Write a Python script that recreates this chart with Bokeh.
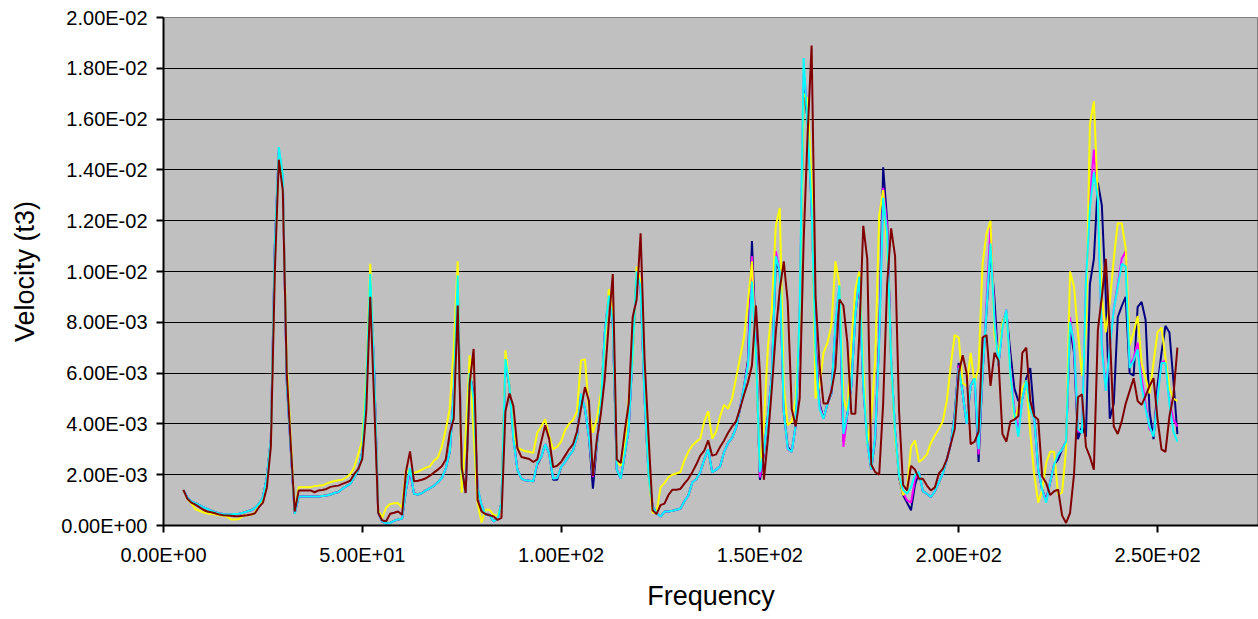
from bokeh.plotting import figure
from bokeh.models import FixedTicker, CustomJSTickFormatter
from bokeh.embed import file_html
from bokeh.resources import INLINE
import numpy as np

# Frequency grid (Hz), 1 Hz steps from 5 to 255
freq = list(range(5, 256))

# Velocity values in units of 1E-03
maroon = [
    1.40, 1.05, 0.90, 0.82, 0.72, 0.62, 0.55, 0.52, 0.48, 0.43,
    0.40, 0.39, 0.38, 0.36, 0.36, 0.38, 0.40, 0.43, 0.48, 0.72,
    0.90, 1.50, 3.10, 10.0, 14.4, 13.2, 6.0, 3.2, 0.55, 1.38,
    1.38, 1.38, 1.38, 1.31, 1.38, 1.40, 1.44, 1.52, 1.55, 1.57,
    1.64, 1.70, 1.77, 2.03, 2.23, 2.62, 4.5, 9.0, 4.8, 0.50,
    0.20, 0.17, 0.46, 0.50, 0.55, 0.42, 2.13, 2.92, 1.74, 1.76,
    1.80, 1.86, 1.96, 2.08, 2.20, 2.33, 2.60, 3.65, 4.2, 8.66,
    2.3, 1.28, 5.6, 6.95, 1.0, 0.55, 0.45, 0.40, 0.36, 0.22,
    0.30, 4.5, 5.2, 4.7, 3.05, 2.7, 2.66, 2.62, 2.5, 2.6,
    3.3, 3.95, 3.4, 2.3, 2.35, 2.5, 2.75, 3.0, 3.2, 3.7,
    4.6, 5.45, 4.9, 1.94, 3.4, 4.4, 5.8, 8.0, 9.9, 2.6,
    2.46, 3.7, 4.8, 8.2, 8.9, 11.5, 6.5, 3.5, 0.6, 0.45,
    0.8, 0.86, 1.2, 1.41, 1.41, 1.44, 1.65, 1.84, 2.1, 2.4,
    2.75, 2.95, 3.35, 2.75, 2.8, 3.1, 3.35, 3.65, 3.9, 4.1,
    4.6, 5.15, 5.64, 6.3, 8.66, 6.0, 1.8, 3.4, 5.4, 7.6,
    9.3, 10.4, 8.8, 4.6, 3.9, 5.0, 11.2, 15.4, 18.9, 9.0,
    6.3, 4.8, 4.8, 5.3, 6.2, 8.9, 8.66, 7.2, 4.4, 4.4,
    7.5, 11.8, 10.5, 2.4, 2.1, 2.0, 4.8, 9.5, 11.7, 10.6,
    4.5, 1.6, 1.38, 2.35, 2.2, 1.84, 1.84, 1.57, 1.38, 1.5,
    2.05, 2.23, 2.6, 3.2, 3.8, 6.0, 6.7, 6.0, 3.2, 3.3,
    3.7, 7.4, 7.5, 5.5, 6.8, 6.5, 3.6, 3.3, 4.1, 4.17,
    4.3, 6.8, 7.0, 4.9, 4.3, 4.17, 1.93, 1.67, 1.2, 1.35,
    1.41, 0.4, 0.1, 0.49, 2.0, 5.05, 5.16, 3.1, 2.7, 2.2,
    7.7, 9.0, 10.5, 7.6, 3.9, 3.6, 4.1, 4.8, 5.3, 5.8,
    4.9, 4.75, 5.1, 5.5, 5.8, 4.2, 3.0, 2.9, 4.3, 5.1,
    7.0,
]

yellow = [
    1.40, 1.05, 0.88, 0.65, 0.58, 0.52, 0.47, 0.45, 0.44, 0.40,
    0.38, 0.35, 0.24, 0.24, 0.26, 0.38, 0.40, 0.42, 0.50, 0.78,
    0.95, 1.80, 3.30, 10.5, 14.6, 13.4, 6.4, 3.4, 0.55, 1.51,
    1.51, 1.51, 1.51, 1.55, 1.57, 1.57, 1.65, 1.70, 1.75, 1.78,
    1.80, 1.90, 2.03, 2.30, 2.82, 3.35, 5.8, 10.3, 5.5, 0.60,
    0.30, 0.70, 0.85, 0.88, 0.88, 0.69, 2.2, 2.05, 2.07, 2.12,
    2.2, 2.28, 2.33, 2.55, 2.68, 3.1, 3.78, 4.6, 7.0, 10.4,
    1.3, 3.5, 6.7, 3.65, 0.88, 0.12, 0.62, 0.62, 0.42, 0.38,
    0.8, 6.9, 5.5, 3.65, 3.05, 2.99, 2.92, 2.90, 2.86, 3.65,
    3.9, 4.18, 3.5, 3.0, 3.1, 3.3, 3.75, 4.0, 4.15, 4.5,
    6.5, 6.55, 4.5, 3.65, 4.2, 5.2, 7.2, 9.3, 8.4, 2.5,
    2.35, 3.0, 5.0, 6.5, 10.2, 9.6, 5.5, 2.0, 0.5, 0.5,
    1.5, 1.67, 1.9, 2.0, 2.05, 2.1, 2.55, 2.9, 3.15, 3.3,
    3.41, 4.1, 4.5, 3.41, 3.7, 4.3, 4.75, 4.6, 5.0, 5.8,
    6.6, 7.4, 8.8, 10.4, 6.5, 2.23, 4.0, 7.0, 8.5, 11.8,
    12.5, 5.5, 3.95, 4.1, 5.0, 8.0, 17.0, 16.8, 13.5, 5.0,
    5.5, 6.8, 7.2, 7.9, 10.4, 9.5, 5.0, 4.5, 7.2, 9.3,
    10.0, 6.2, 3.2, 4.2, 6.5, 12.2, 13.2, 11.0, 6.5, 3.5,
    2.0, 1.2, 1.4, 3.1, 3.35, 2.5, 2.62, 2.8, 3.25, 3.54,
    3.8, 4.1, 4.9, 6.3, 7.5, 7.4, 5.6, 5.5, 6.8, 5.6,
    6.2, 10.3, 11.5, 12.0, 7.5, 6.7, 8.0, 8.38, 6.0, 4.2,
    4.6, 5.4, 5.7, 3.64, 2.0, 0.9, 1.4, 2.46, 2.9, 2.9,
    1.2, 1.3, 3.0, 10.0, 9.4, 7.59, 5.9, 7.59, 15.8, 16.7,
    12.85, 9.0, 7.6, 8.8, 10.5, 11.9, 11.9, 10.9, 7.1, 7.6,
    8.25, 6.4, 5.8, 5.2, 6.4, 7.6, 7.79, 6.6, 5.4, 5.0,
    4.9,
]

cyan = [
    1.40, 1.10, 0.95, 0.88, 0.80, 0.72, 0.65, 0.58, 0.52, 0.47,
    0.45, 0.44, 0.44, 0.45, 0.46, 0.50, 0.55, 0.60, 0.68, 0.85,
    1.10, 1.90, 3.40, 11.0, 14.9, 13.8, 5.6, 3.0, 0.46, 1.14,
    1.14, 1.14, 1.14, 1.14, 1.14, 1.16, 1.18, 1.22, 1.28, 1.32,
    1.45, 1.55, 1.64, 1.90, 2.20, 2.90, 5.5, 9.9, 6.0, 0.50,
    0.15, 0.09, 0.10, 0.18, 0.24, 0.27, 1.41, 2.27, 1.25, 1.22,
    1.28, 1.38, 1.47, 1.56, 1.70, 1.87, 2.25, 2.9, 5.2, 9.84,
    2.2, 1.3, 6.0, 5.0, 1.5, 0.8, 0.42, 0.42, 0.16, 0.25,
    0.9, 6.55, 5.5, 3.39, 2.2, 1.85, 1.78, 1.76, 1.74, 2.46,
    2.7, 3.2, 2.85, 1.85, 1.87, 2.3, 2.5, 2.75, 2.95, 3.5,
    5.2, 4.6, 3.5, 2.0, 3.2, 4.8, 7.6, 9.05, 8.0, 2.2,
    1.85, 2.8, 3.8, 6.8, 10.0, 9.4, 5.0, 2.0, 0.75, 0.5,
    0.35, 0.55, 0.55, 0.58, 0.62, 0.66, 0.95, 1.18, 1.7, 1.82,
    2.1, 2.6, 3.0, 2.1, 2.2, 2.33, 2.9, 3.25, 3.45, 3.85,
    4.6, 5.45, 6.3, 9.6, 6.8, 2.1, 2.9, 4.3, 5.9, 10.6,
    10.0, 4.5, 3.02, 2.9, 3.94, 8.5, 18.4, 15.7, 12.5, 6.8,
    4.6, 4.2, 4.8, 5.2, 8.0, 9.45, 3.6, 4.4, 5.5, 8.3,
    9.8, 5.5, 3.28, 2.2, 3.5, 7.2, 12.9, 11.5, 6.5, 3.7,
    1.97, 1.4, 1.25, 1.5, 2.0, 2.1, 1.35, 1.25, 1.12, 1.35,
    1.7, 2.05, 2.6, 3.2, 4.3, 6.2, 5.2, 4.0, 5.5, 5.8,
    3.0, 6.0, 8.5, 11.1, 8.0, 6.3, 7.8, 8.5, 6.0, 4.4,
    3.5, 5.0, 5.7, 4.6, 4.2, 2.2, 1.41, 0.9, 1.7, 2.4,
    2.8, 3.0, 3.3, 8.0, 7.2, 3.8, 3.64, 9.57, 12.5, 13.9,
    12.86, 7.0, 5.3, 7.0, 8.5, 9.4, 10.3, 10.2, 6.2, 6.5,
    6.93, 5.5, 4.6, 3.9, 3.5, 5.0, 6.4, 6.4, 4.8, 3.7,
    3.3,
]

navy = [
    1.40, 1.10, 0.95, 0.88, 0.80, 0.72, 0.65, 0.58, 0.52, 0.47,
    0.45, 0.44, 0.44, 0.45, 0.46, 0.50, 0.55, 0.60, 0.68, 0.85,
    1.10, 1.90, 3.40, 11.0, 14.7, 13.6, 5.7, 3.0, 0.48, 1.14,
    1.14, 1.14, 1.14, 1.14, 1.14, 1.16, 1.18, 1.22, 1.28, 1.32,
    1.45, 1.55, 1.64, 1.90, 2.20, 2.90, 5.5, 9.7, 6.0, 0.50,
    0.15, 0.09, 0.10, 0.18, 0.24, 0.27, 1.41, 2.2, 1.25, 1.22,
    1.28, 1.38, 1.47, 1.56, 1.70, 1.87, 2.25, 2.9, 5.2, 9.6,
    2.2, 1.3, 6.0, 5.2, 1.4, 0.8, 0.42, 0.42, 0.16, 0.25,
    0.9, 6.4, 5.5, 3.5, 2.2, 1.85, 1.78, 1.76, 1.74, 2.4,
    2.7, 3.2, 2.85, 1.8, 1.8, 2.3, 2.5, 2.75, 2.95, 3.5,
    5.1, 4.6, 3.5, 1.45, 3.2, 4.8, 7.6, 9.0, 8.0, 2.2,
    1.85, 2.8, 3.8, 6.8, 9.9, 9.4, 5.0, 2.0, 0.75, 0.5,
    0.35, 0.55, 0.55, 0.58, 0.62, 0.66, 0.95, 1.18, 1.7, 1.82,
    2.1, 2.6, 3.0, 2.1, 2.2, 2.33, 2.9, 3.25, 3.45, 3.85,
    4.6, 5.45, 6.5, 11.2, 7.2, 1.8, 2.8, 4.3, 5.9, 10.4,
    10.0, 4.5, 3.1, 2.9, 3.94, 8.0, 17.2, 16.0, 12.6, 7.2,
    4.8, 4.2, 4.8, 5.2, 7.8, 9.3, 3.3, 4.4, 5.5, 8.3,
    9.6, 5.5, 3.4, 2.2, 3.4, 7.5, 14.1, 12.0, 6.5, 3.7,
    1.9, 1.2, 0.9, 0.6, 1.6, 2.1, 1.35, 1.25, 1.12, 1.35,
    1.7, 2.05, 2.6, 3.2, 4.4, 6.4, 5.2, 4.0, 5.5, 5.8,
    2.5, 6.0, 8.5, 10.8, 8.9, 6.3, 8.0, 8.4, 6.8, 5.4,
    4.9, 5.0, 5.8, 6.2, 4.3, 2.2, 1.41, 1.0, 1.7, 2.4,
    2.6, 3.0, 3.3, 7.8, 6.8, 3.4, 3.9, 3.5, 9.5, 10.5,
    13.5, 12.6, 9.0, 4.2, 4.8, 8.2, 8.64, 9.0, 6.0, 5.9,
    8.6, 8.8, 8.1, 4.5, 3.4, 5.5, 6.8, 7.86, 7.6, 5.7,
    3.6,
]

magenta = [
    1.40, 1.10, 0.95, 0.88, 0.80, 0.72, 0.65, 0.58, 0.52, 0.47,
    0.45, 0.44, 0.44, 0.45, 0.46, 0.50, 0.55, 0.60, 0.68, 0.85,
    1.10, 1.90, 3.40, 11.0, 14.8, 13.7, 5.6, 3.0, 0.46, 1.14,
    1.14, 1.14, 1.14, 1.14, 1.14, 1.16, 1.18, 1.22, 1.28, 1.32,
    1.45, 1.55, 1.64, 1.90, 2.20, 2.90, 5.5, 9.8, 6.0, 0.50,
    0.15, 0.09, 0.10, 0.18, 0.24, 0.27, 1.41, 2.1, 1.28, 1.22,
    1.28, 1.38, 1.47, 1.56, 1.70, 1.87, 2.25, 2.9, 5.2, 9.7,
    2.2, 1.3, 6.0, 5.0, 1.5, 0.8, 0.42, 0.42, 0.16, 0.25,
    0.9, 6.5, 5.5, 3.39, 2.2, 1.85, 1.78, 1.76, 1.74, 2.46,
    2.7, 3.2, 2.85, 1.85, 1.87, 2.3, 2.5, 2.75, 2.95, 3.5,
    5.2, 4.6, 3.5, 1.9, 3.2, 4.8, 7.6, 9.1, 8.0, 2.2,
    1.85, 2.8, 3.8, 6.8, 10.0, 9.4, 5.0, 2.0, 0.75, 0.5,
    0.35, 0.55, 0.55, 0.58, 0.62, 0.66, 0.95, 1.18, 1.7, 1.82,
    2.1, 2.6, 3.0, 2.1, 2.2, 2.33, 2.9, 3.25, 3.45, 3.85,
    4.6, 5.45, 6.4, 10.6, 7.0, 1.9, 2.9, 4.3, 5.9, 10.8,
    10.0, 4.5, 3.0, 2.9, 3.94, 8.3, 17.8, 16.5, 12.5, 7.0,
    4.7, 4.2, 4.8, 5.2, 7.9, 9.4, 3.1, 4.4, 5.5, 8.3,
    9.7, 5.5, 3.3, 2.2, 3.5, 7.3, 13.3, 11.8, 6.5, 3.7,
    1.95, 1.3, 1.0, 0.9, 1.8, 2.1, 1.35, 1.25, 1.12, 1.35,
    1.7, 2.05, 2.6, 3.2, 4.3, 6.3, 5.2, 4.0, 5.5, 5.8,
    2.8, 6.0, 8.8, 11.8, 8.2, 6.3, 7.9, 8.5, 6.2, 4.6,
    3.7, 5.0, 5.7, 4.8, 4.2, 2.2, 1.41, 0.95, 1.7, 2.4,
    2.8, 3.0, 3.3, 8.2, 7.0, 3.7, 3.7, 9.4, 12.8, 14.8,
    12.9, 7.2, 5.3, 7.0, 8.5, 9.5, 10.5, 10.8, 6.3, 6.6,
    7.2, 5.8, 4.8, 3.8, 3.6, 5.1, 6.4, 6.5, 4.9, 4.17,
    3.9,
]

series_names = ["navy", "magenta", "yellow", "cyan", "maroon"]
series_values = [navy, magenta, yellow, cyan, maroon]
series_colors = ["#000080", "#FF00FF", "#FFFF00", "#00FFFF", "#800000"]
unit = 1e-3

x_ticks = [0, 50, 100, 150, 200, 250]
y_ticks = [0.0, 0.002, 0.004, 0.006, 0.008, 0.010, 0.012, 0.014, 0.016, 0.018, 0.020]

FONT = "Liberation Sans"

p = figure(width=1258, height=619,
           x_range=(0, 275.4), y_range=(0, 0.02),
           output_backend="svg", toolbar_location=None,
           min_border_left=163, min_border_right=0,
           min_border_top=17, min_border_bottom=94,
           background_fill_color="#C0C0C0", border_fill_color="white",
           outline_line_color="#808080", outline_line_width=1)

for name, vals, col in zip(series_names, series_values, series_colors):
    p.line(freq, list(np.array(vals) * unit), line_color=col, line_width=2)

fmt = CustomJSTickFormatter(code="""
const s = tick.toExponential(2);
const parts = s.split('e');
const e = parseInt(parts[1]);
const sign = e < 0 ? '-' : '+';
const a = Math.abs(e);
return parts[0] + 'E' + sign + (a < 10 ? '0' : '') + a;
""")

p.xaxis.ticker = FixedTicker(ticks=x_ticks)
p.yaxis.ticker = FixedTicker(ticks=y_ticks)
for ax in (p.xaxis[0], p.yaxis[0]):
    ax.formatter = fmt
    ax.axis_line_color = "black"
    ax.axis_line_width = 2
    ax.major_tick_line_color = "black"
    ax.major_tick_line_width = 2
    ax.major_tick_out = 7
    ax.major_tick_in = 0
    ax.minor_tick_out = 0
    ax.minor_tick_in = 0
    ax.major_label_text_font = FONT
    ax.major_label_text_font_size = "20px"
    ax.major_label_text_color = "black"
    ax.axis_label_text_font = FONT
    ax.axis_label_text_font_size = "27px"
    ax.axis_label_text_font_style = "normal"
    ax.axis_label_text_color = "black"

p.xaxis.axis_label = "Frequency"
p.yaxis.axis_label = "Velocity (t3)"
p.xaxis.major_label_standoff = 11
p.xaxis.axis_label_standoff = 12
p.yaxis.major_label_standoff = 9
p.yaxis.axis_label_standoff = 18

p.xgrid.visible = False
p.ygrid.grid_line_color = "black"
p.ygrid.grid_line_width = 1
p.ygrid.grid_line_alpha = 1.0

open("out.html", "w").write(file_html(p, INLINE))
